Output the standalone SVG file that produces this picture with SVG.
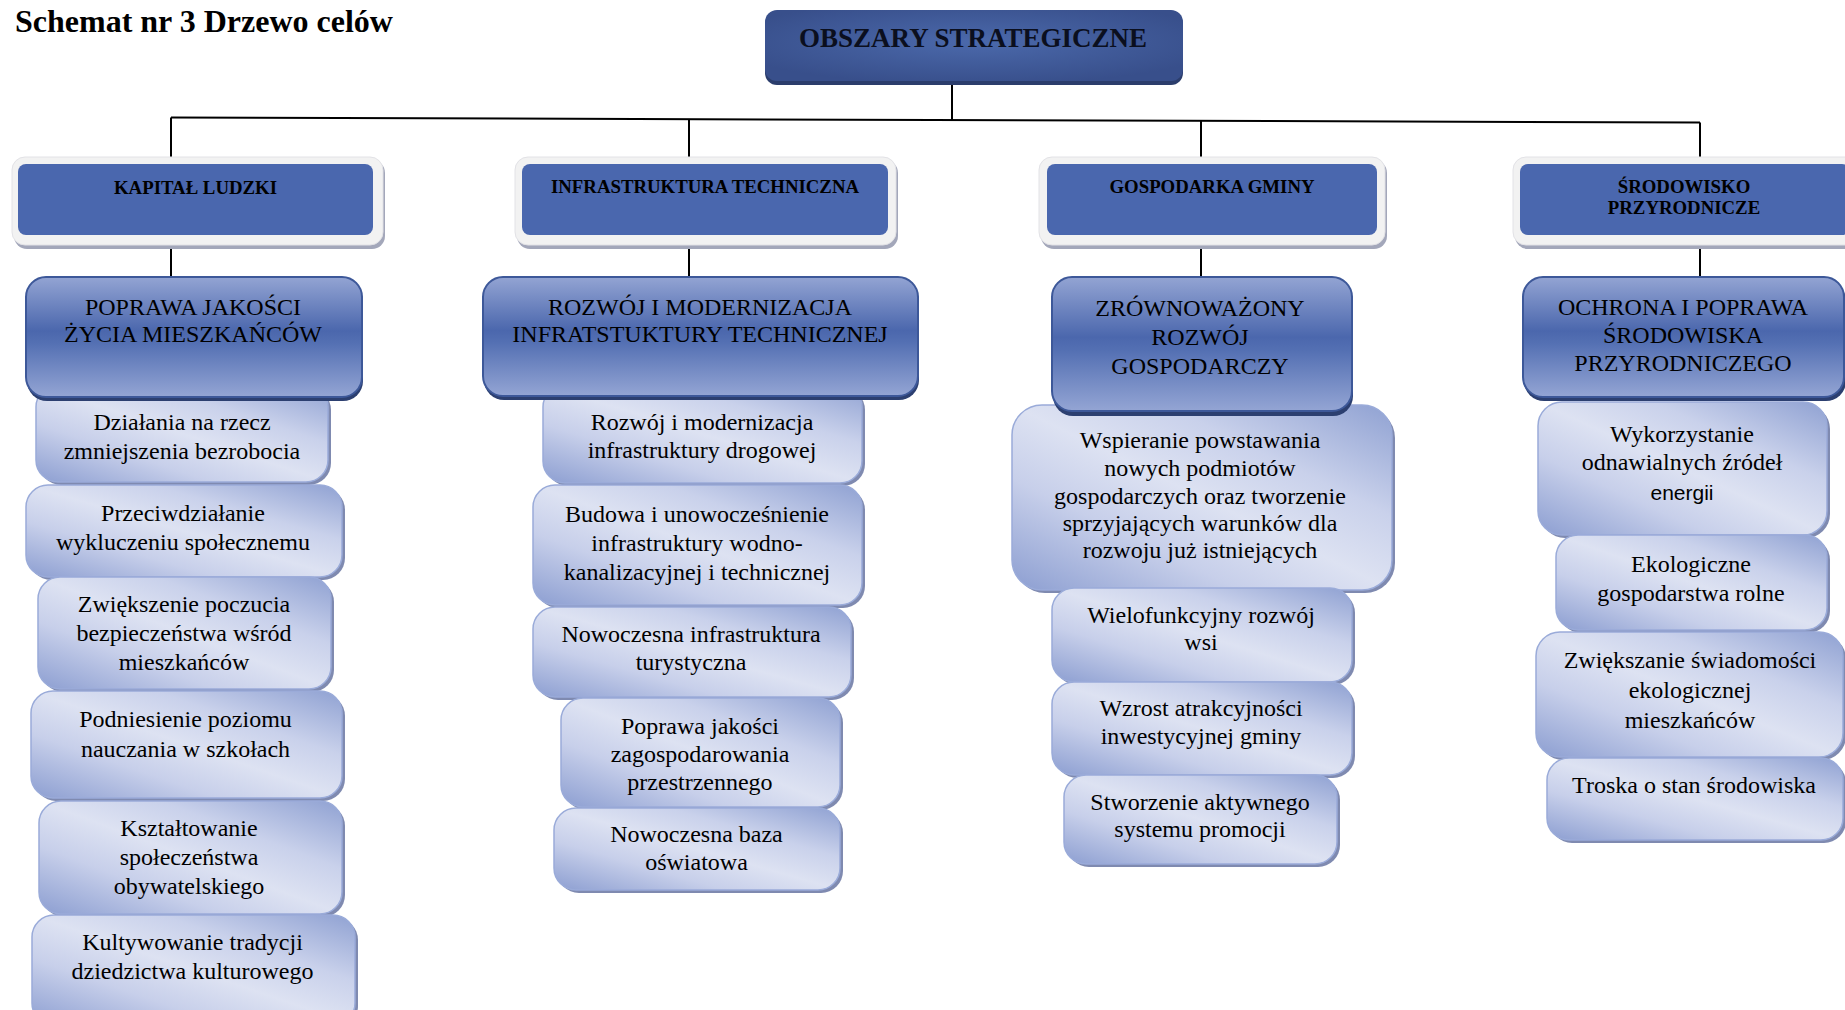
<svg xmlns="http://www.w3.org/2000/svg" width="1845" height="1010" viewBox="0 0 1845 1010">
<defs>
  <radialGradient id="gTop" cx="0.5" cy="0.45" r="0.6">
    <stop offset="0" stop-color="#4b69ab"/>
    <stop offset="1" stop-color="#384f8b"/>
  </radialGradient>
  <linearGradient id="gL3" x1="0" y1="0" x2="0" y2="1">
    <stop offset="0" stop-color="#93a4d3"/>
    <stop offset="0.45" stop-color="#4b67ad"/>
    <stop offset="0.55" stop-color="#5470b3"/>
    <stop offset="1" stop-color="#94a5d4"/>
  </linearGradient>
  <linearGradient id="gL4" x1="0" y1="1" x2="1" y2="0">
    <stop offset="0" stop-color="#8c9ed1"/>
    <stop offset="0.3" stop-color="#c7cfea"/>
    <stop offset="0.5" stop-color="#dde2f2"/>
    <stop offset="0.7" stop-color="#c9d1eb"/>
    <stop offset="1" stop-color="#8fa1d2"/>
  </linearGradient>
</defs>
<style>
  text { font-family: "Liberation Serif", "Times New Roman", serif; fill: #000; text-anchor: middle; }
  .title { font-size: 32px; font-weight: bold; text-anchor: start; }
  .t1 { font-size: 27px; font-weight: bold; fill: #0b0f1e; }
  .t2 { font-size: 18.8px; font-weight: bold; }
  .t3 { font-size: 24px; }
  .t4 { font-size: 24px; }
  .sans { font-family: "Liberation Sans", Arial, sans-serif; font-size: 21px; }
  .topbox { fill: url(#gTop); }
  .topsh { fill: #2b3d6c; }
  .frame { fill: #f2f2f2; stroke: #e2e2e6; stroke-width: 1; }
  .framesh { fill: #a3a7ba; }
  .inner { fill: #4a67ae; }
  .l3 { fill: url(#gL3); stroke: #3d5899; stroke-width: 2; }
  .l3sh { fill: #2c3f70; }
  .l4 { fill: url(#gL4); stroke: #9aabd9; stroke-width: 1.5; }
  .l4sh { fill: #7f8ab0; }
  .conn line { stroke: #000; stroke-width: 2; }
</style>
<rect width="1845" height="1010" fill="#ffffff"/>
<text class="title" x="15" y="32">Schemat nr 3 Drzewo celów</text>

<g id="connectors" class="conn">
  <line x1="952" y1="83" x2="952" y2="120"/>
  <line x1="171" y1="117.5" x2="1700" y2="122.5"/>
  <line x1="171" y1="117.5" x2="171" y2="160"/>
  <line x1="689" y1="119" x2="689" y2="160"/>
  <line x1="1201" y1="121" x2="1201" y2="160"/>
  <line x1="1700" y1="122.5" x2="1700" y2="160"/>
  <line x1="171" y1="239" x2="171" y2="278"/>
  <line x1="689" y1="239" x2="689" y2="278"/>
  <line x1="1201" y1="239" x2="1201" y2="278"/>
  <line x1="1700" y1="239" x2="1700" y2="278"/>
</g>

<g id="obszary">
  <rect class="topsh" x="765" y="13" width="418" height="72" rx="12"/>
  <rect class="topbox" x="765" y="10" width="418" height="71" rx="12"/>
  <text class="t1" x="973" y="47">OBSZARY STRATEGICZNE</text>
</g>

<!-- Level 2 -->
<g id="kapital">
  <rect class="framesh" x="14" y="160" width="371" height="89" rx="13"/>
  <rect class="frame" x="12" y="157" width="371" height="88" rx="13"/>
  <rect class="inner" x="18" y="164" width="355" height="71" rx="8"/>
  <text class="t2" x="195.5" y="194">KAPITAŁ LUDZKI</text>
</g>
<g id="infrastruktura">
  <rect class="framesh" x="517" y="160" width="381" height="89" rx="13"/>
  <rect class="frame" x="515" y="157" width="381" height="88" rx="13"/>
  <rect class="inner" x="522" y="164" width="366" height="71" rx="8"/>
  <text class="t2" x="705" y="193">INFRASTRUKTURA TECHNICZNA</text>
</g>
<g id="gospodarka">
  <rect class="framesh" x="1041" y="160" width="346" height="89" rx="13"/>
  <rect class="frame" x="1039" y="157" width="346" height="88" rx="13"/>
  <rect class="inner" x="1047" y="164" width="330" height="71" rx="8"/>
  <text class="t2" x="1212" y="193">GOSPODARKA GMINY</text>
</g>
<g id="srodowisko">
  <rect class="framesh" x="1515" y="160" width="346" height="89" rx="13"/>
  <rect class="frame" x="1513" y="157" width="346" height="88" rx="13"/>
  <rect class="inner" x="1520" y="164" width="330" height="71" rx="8"/>
  <text class="t2" x="1684" y="193">ŚRODOWISKO</text>
  <text class="t2" x="1684" y="214">PRZYRODNICZE</text>
</g>

<!-- Level 4 column 1 -->
<g id="c1-1">
  <rect class="l4sh" x="39" y="388" width="292" height="97" rx="22"/>
  <rect class="l4" x="36" y="385" width="292" height="97" rx="22"/>
  <text class="t4" x="182" y="430">Działania na rzecz</text>
  <text class="t4" x="182" y="459">zmniejszenia bezrobocia</text>
</g>
<g id="c1-2">
  <rect class="l4sh" x="29" y="488" width="316" height="92" rx="22"/>
  <rect class="l4" x="26" y="485" width="316" height="92" rx="22"/>
  <text class="t4" x="183" y="521">Przeciwdziałanie</text>
  <text class="t4" x="183" y="550">wykluczeniu społecznemu</text>
</g>
<g id="c1-3">
  <rect class="l4sh" x="41" y="580" width="293" height="112" rx="22"/>
  <rect class="l4" x="38" y="577" width="293" height="112" rx="22"/>
  <text class="t4" x="184" y="612">Zwiększenie poczucia</text>
  <text class="t4" x="184" y="641">bezpieczeństwa wśród</text>
  <text class="t4" x="184" y="670">mieszkańców</text>
</g>
<g id="c1-4">
  <rect class="l4sh" x="34" y="694" width="311" height="107" rx="22"/>
  <rect class="l4" x="31" y="691" width="311" height="107" rx="22"/>
  <text class="t4" x="185.5" y="727">Podniesienie poziomu</text>
  <text class="t4" x="185.5" y="757">nauczania w szkołach</text>
</g>
<g id="c1-5">
  <rect class="l4sh" x="42" y="804" width="303" height="113" rx="22"/>
  <rect class="l4" x="39" y="801" width="303" height="113" rx="22"/>
  <text class="t4" x="189" y="836">Kształtowanie</text>
  <text class="t4" x="189" y="865">społeczeństwa</text>
  <text class="t4" x="189" y="894">obywatelskiego</text>
</g>
<g id="c1-6">
  <rect class="l4sh" x="35" y="918" width="323" height="110" rx="22"/>
  <rect class="l4" x="32" y="915" width="323" height="110" rx="22"/>
  <text class="t4" x="192.5" y="950">Kultywowanie tradycji</text>
  <text class="t4" x="192.5" y="979">dziedzictwa kulturowego</text>
</g>

<!-- Level 4 column 2 -->
<g id="c2-1">
  <rect class="l4sh" x="546" y="388" width="319" height="98" rx="22"/>
  <rect class="l4" x="543" y="385" width="319" height="98" rx="22"/>
  <text class="t4" x="702" y="430">Rozwój i modernizacja</text>
  <text class="t4" x="702" y="458">infrastruktury drogowej</text>
</g>
<g id="c2-2">
  <rect class="l4sh" x="536" y="488" width="329" height="120" rx="22"/>
  <rect class="l4" x="533" y="485" width="329" height="120" rx="22"/>
  <text class="t4" x="697" y="522">Budowa i unowocześnienie</text>
  <text class="t4" x="697" y="551">infrastruktury wodno-</text>
  <text class="t4" x="697" y="580">kanalizacyjnej i technicznej</text>
</g>
<g id="c2-3">
  <rect class="l4sh" x="536" y="610" width="318" height="90" rx="22"/>
  <rect class="l4" x="533" y="607" width="318" height="90" rx="22"/>
  <text class="t4" x="691" y="642">Nowoczesna infrastruktura</text>
  <text class="t4" x="691" y="670">turystyczna</text>
</g>
<g id="c2-4">
  <rect class="l4sh" x="564" y="701" width="279" height="109" rx="22"/>
  <rect class="l4" x="561" y="698" width="279" height="109" rx="22"/>
  <text class="t4" x="700" y="734">Poprawa jakości</text>
  <text class="t4" x="700" y="762">zagospodarowania</text>
  <text class="t4" x="700" y="790">przestrzennego</text>
</g>
<g id="c2-5">
  <rect class="l4sh" x="557" y="811" width="286" height="82" rx="22"/>
  <rect class="l4" x="554" y="808" width="286" height="82" rx="22"/>
  <text class="t4" x="696.5" y="842">Nowoczesna baza</text>
  <text class="t4" x="696.5" y="870">oświatowa</text>
</g>

<!-- Level 4 column 3 -->
<g id="c3-1">
  <rect class="l4sh" x="1015" y="408" width="380" height="185" rx="30"/>
  <rect class="l4" x="1012" y="405" width="380" height="185" rx="30"/>
  <text class="t4" x="1200" y="448">Wspieranie powstawania</text>
  <text class="t4" x="1200" y="476">nowych podmiotów</text>
  <text class="t4" x="1200" y="504">gospodarczych oraz tworzenie</text>
  <text class="t4" x="1200" y="531">sprzyjających warunków dla</text>
  <text class="t4" x="1200" y="558">rozwoju już istniejących</text>
</g>
<g id="c3-2">
  <rect class="l4sh" x="1055" y="591" width="300" height="94" rx="22"/>
  <rect class="l4" x="1052" y="588" width="300" height="94" rx="22"/>
  <text class="t4" x="1201" y="623">Wielofunkcyjny rozwój</text>
  <text class="t4" x="1201" y="650">wsi</text>
</g>
<g id="c3-3">
  <rect class="l4sh" x="1055" y="685" width="300" height="93" rx="22"/>
  <rect class="l4" x="1052" y="682" width="300" height="93" rx="22"/>
  <text class="t4" x="1201" y="716">Wzrost atrakcyjności</text>
  <text class="t4" x="1201" y="744">inwestycyjnej gminy</text>
</g>
<g id="c3-4">
  <rect class="l4sh" x="1067" y="778" width="273" height="89" rx="22"/>
  <rect class="l4" x="1064" y="775" width="273" height="89" rx="22"/>
  <text class="t4" x="1200" y="810">Stworzenie aktywnego</text>
  <text class="t4" x="1200" y="837">systemu promocji</text>
</g>

<!-- Level 4 column 4 -->
<g id="c4-1">
  <rect class="l4sh" x="1541" y="405" width="289" height="133" rx="24"/>
  <rect class="l4" x="1538" y="402" width="289" height="133" rx="24"/>
  <text class="t4" x="1682" y="442">Wykorzystanie</text>
  <text class="t4" x="1682" y="470">odnawialnych źródeł</text>
  <text class="sans" x="1682" y="500">energii</text>
</g>
<g id="c4-2">
  <rect class="l4sh" x="1559" y="538" width="271" height="95" rx="22"/>
  <rect class="l4" x="1556" y="535" width="271" height="95" rx="22"/>
  <text class="t4" x="1691" y="572">Ekologiczne</text>
  <text class="t4" x="1691" y="601">gospodarstwa rolne</text>
</g>
<g id="c4-3">
  <rect class="l4sh" x="1539" y="635" width="307" height="125" rx="24"/>
  <rect class="l4" x="1536" y="632" width="307" height="125" rx="24"/>
  <text class="t4" x="1690" y="668">Zwiększanie świadomości</text>
  <text class="t4" x="1690" y="698">ekologicznej</text>
  <text class="t4" x="1690" y="728">mieszkańców</text>
</g>
<g id="c4-4">
  <rect class="l4sh" x="1550" y="761" width="296" height="82" rx="22"/>
  <rect class="l4" x="1547" y="758" width="296" height="82" rx="22"/>
  <text class="t4" x="1694" y="793">Troska o stan środowiska</text>
</g>

<!-- Level 3 -->
<g id="poprawa">
  <rect class="l3sh" x="27" y="281" width="336" height="120" rx="20"/>
  <rect class="l3" x="26" y="277" width="336" height="120" rx="20"/>
  <text class="t3" x="193" y="315">POPRAWA JAKOŚCI</text>
  <text class="t3" x="193" y="342">ŻYCIA MIESZKAŃCÓW</text>
</g>
<g id="rozwoj">
  <rect class="l3sh" x="484" y="281" width="435" height="119" rx="20"/>
  <rect class="l3" x="483" y="277" width="435" height="119" rx="20"/>
  <text class="t3" x="700" y="315">ROZWÓJ I MODERNIZACJA</text>
  <text class="t3" x="700" y="342">INFRATSTUKTURY TECHNICZNEJ</text>
</g>
<g id="zrownowazony">
  <rect class="l3sh" x="1053" y="281" width="300" height="135" rx="20"/>
  <rect class="l3" x="1052" y="277" width="300" height="134" rx="20"/>
  <text class="t3" x="1200" y="316">ZRÓWNOWAŻONY</text>
  <text class="t3" x="1200" y="345">ROZWÓJ</text>
  <text class="t3" x="1200" y="374">GOSPODARCZY</text>
</g>
<g id="ochrona">
  <rect class="l3sh" x="1524" y="281" width="322" height="120" rx="20"/>
  <rect class="l3" x="1523" y="277" width="321" height="120" rx="20"/>
  <text class="t3" x="1683" y="315">OCHRONA I POPRAWA</text>
  <text class="t3" x="1683" y="343">ŚRODOWISKA</text>
  <text class="t3" x="1683" y="371">PRZYRODNICZEGO</text>
</g>
</svg>
